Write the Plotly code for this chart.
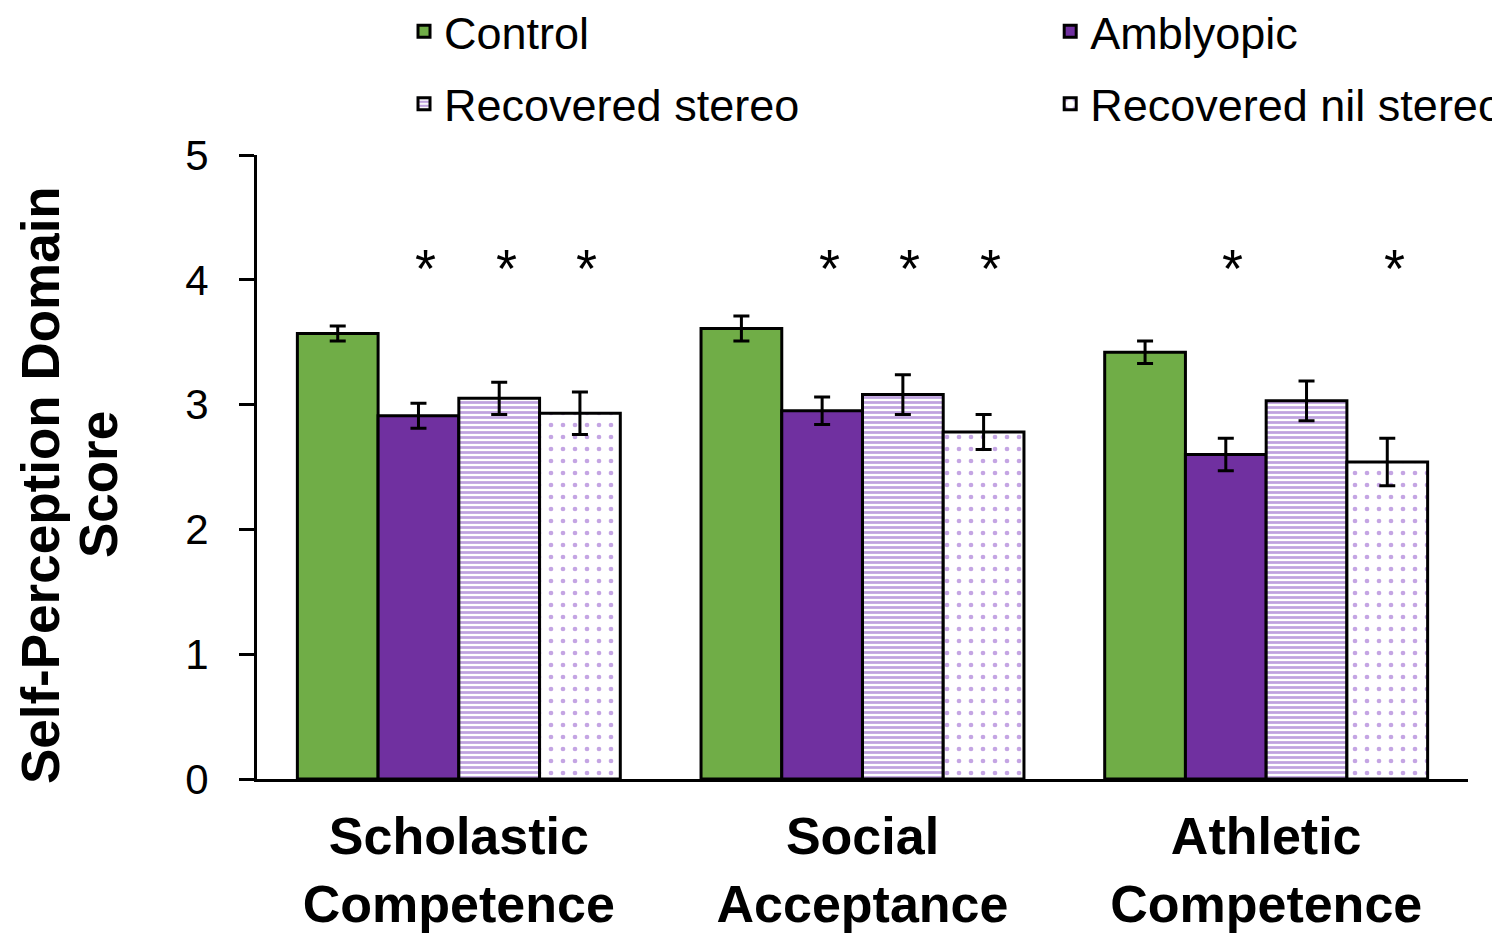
import plotly.graph_objects as go

categories = ["Scholastic<br>Competence", "Social<br>Acceptance", "Athletic<br>Competence"]
series = ["Control", "Amblyopic", "Recovered stereo", "Recovered nil stereo"]
control = [3.57, 3.61, 3.42]
control_err = [0.06, 0.10, 0.09]
amblyopic = [2.91, 2.95, 2.60]
amblyopic_err = [0.10, 0.11, 0.13]
rec_stereo = [3.05, 3.08, 3.03]
rec_stereo_err = [0.13, 0.16, 0.16]
rec_nil = [2.93, 2.78, 2.54]
rec_nil_err = [0.17, 0.14, 0.19]
# significance stars: (category index, series index)
stars = [(0, 1), (0, 2), (0, 3), (1, 1), (1, 2), (1, 3), (2, 1), (2, 3)]
star_level = 4.14
y_title_lines = ["Self-Perception Domain", "Score"]

FONT = "Arial, Liberation Sans, sans-serif"
xs = list(range(len(categories)))

fig = go.Figure()
styles = [
    dict(color="#70AD47"),
    dict(color="#7030A0"),
    dict(color="white", pattern=dict(shape="-", fgcolor="#7f45c0", bgcolor="white", size=5, solidity=0.55)),
    dict(color="white", pattern=dict(shape=".", fgcolor="#8a4cc8", bgcolor="white", size=12, solidity=0.12)),
]
values = [control, amblyopic, rec_stereo, rec_nil]
errs = [control_err, amblyopic_err, rec_stereo_err, rec_nil_err]
legends = ["legend", "legend2", "legend", "legend2"]
for i, name in enumerate(series):
    fig.add_trace(go.Bar(
        x=xs, y=values[i], name=name,
        marker=dict(**styles[i], line=dict(color="black", width=3)),
        error_y=dict(type="data", array=errs[i], color="black", thickness=3, width=8),
        legend=legends[i], legendgroup=name,
    ))

n = len(series)
bw = 0.8 / n
for ci, si in stars:
    fig.add_annotation(x=xs[ci] - 0.4 + bw * (si + 0.5), y=star_level, xref="x", yref="y",
                       text="*", showarrow=False, xshift=7, yshift=-6,
                       font=dict(family=FONT, size=54, color="black"))

for k, line in enumerate(y_title_lines):
    fig.add_annotation(x=0, y=0.471, xref="paper", yref="paper", text=line,
                       textangle=-90, showarrow=False, xanchor="center", yanchor="middle",
                       xshift=-217 + 58 * k,
                       font=dict(family=FONT, size=53, color="black", weight="bold"))

legend_common = dict(orientation="v", yanchor="top", xanchor="left", y=1.2555,
                     font=dict(family=FONT, size=45, color="black"),
                     bgcolor="rgba(0,0,0,0)", tracegroupgap=11, itemwidth=30)
fig.update_layout(
    width=1500, height=935,
    margin=dict(l=249, r=40, t=147, b=164, autoexpand=False),
    plot_bgcolor="white", paper_bgcolor="white",
    font=dict(family=FONT, color="black"),
    barmode="group", bargap=0.2, bargroupgap=0,
    legend=dict(x=0.1214, **legend_common),
    legend2=dict(x=0.655, **legend_common),
    xaxis=dict(tickmode="array", tickvals=xs, ticktext=categories, range=[-0.5, 2.5],
               showline=True, linecolor="black", linewidth=3, ticks="", showgrid=False,
               automargin=False, ticklabelstandoff=10,
               tickfont=dict(family=FONT, size=52, color="black", weight="bold")),
    yaxis=dict(range=[0, 5], tickvals=[0, 1, 2, 3, 4, 5], showline=True, linecolor="black",
               linewidth=3, ticks="outside", ticklen=15, tickwidth=3, tickcolor="black",
               showgrid=False, zeroline=False, automargin=False, ticklabelstandoff=22,
               tickfont=dict(family=FONT, size=42, color="black")),
)
fig.write_html("out.html")
